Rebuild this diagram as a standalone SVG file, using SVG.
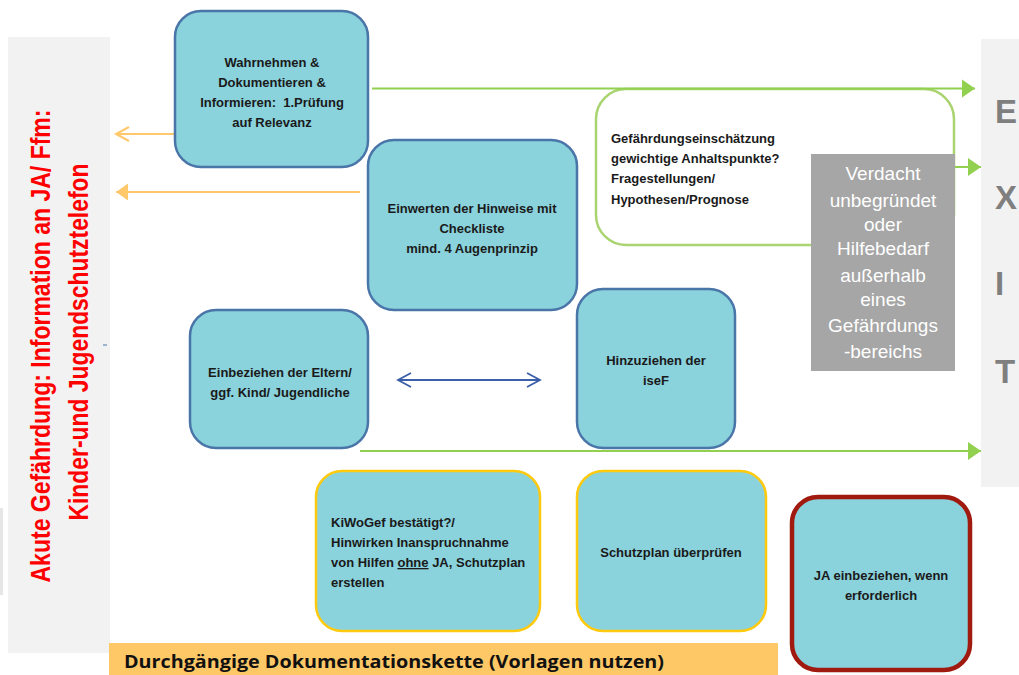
<svg xmlns="http://www.w3.org/2000/svg" width="1019" height="675" viewBox="0 0 1019 675">
<style>
.node{fill:#8ad2dc;stroke:#4a75a8;stroke-width:2.5}
.t{font-family:"Liberation Sans",Arial,sans-serif;font-weight:bold;font-size:13px;fill:#1a1a1a}
.c{text-anchor:middle}
.g{font-family:"Liberation Sans",Arial,sans-serif;font-size:19px;fill:#ffffff;text-anchor:middle}
.exit{font-family:"Liberation Sans",Arial,sans-serif;font-weight:bold;font-size:33px;fill:#7f7f7f}
.red{font-family:"Liberation Sans",Arial,sans-serif;font-weight:bold;font-size:27px;fill:#ff0000;text-anchor:middle}
.gl{stroke:#92d050;stroke-width:2;fill:none}
.ol{stroke:#ffc86b;stroke-width:2;fill:none}
</style>
<defs>
<marker id="gh" markerUnits="userSpaceOnUse" markerWidth="14" markerHeight="18" refX="13" refY="9" orient="auto" overflow="visible"><path d="M0,0 L13,9 L0,18 z" fill="#92d050"/></marker>
<marker id="of" markerUnits="userSpaceOnUse" markerWidth="13" markerHeight="17" refX="12" refY="8.5" orient="auto" overflow="visible"><path d="M0,0 L12,8.5 L0,17 z" fill="#ffc86b"/></marker>
<marker id="oo" markerUnits="userSpaceOnUse" markerWidth="15" markerHeight="17" refX="13" refY="8" orient="auto" overflow="visible"><path d="M0,1 L13,8 L0,15" fill="none" stroke="#ffc86b" stroke-width="2"/></marker>
<marker id="bo" markerUnits="userSpaceOnUse" markerWidth="15" markerHeight="17" refX="13" refY="8" orient="auto-start-reverse" overflow="visible"><path d="M0,1 L13,8 L0,15" fill="none" stroke="#3a5ea8" stroke-width="1.8"/></marker>
</defs>

<g id="left-panel">
<rect x="0" y="508" width="3" height="87" fill="#e6e6e6"/>
<rect x="8" y="37" width="102" height="616" fill="#f2f2f2"/>
<text class="red" transform="translate(50,346) rotate(-90)" textLength="473" lengthAdjust="spacingAndGlyphs">Akute Gefährdung: Information an JA/ Ffm:</text>
<text class="red" transform="translate(88,342) rotate(-90)" textLength="357" lengthAdjust="spacingAndGlyphs">Kinder-und Jugendschutztelefon</text>
<line x1="103" y1="345" x2="107" y2="345" stroke="#4a75a8" stroke-width="1"/>
</g>

<g id="exit-panel">
<rect x="981" y="39" width="38" height="448" fill="#f2f2f2"/>
<text class="exit" x="995" y="123">E</text>
<text class="exit" x="995" y="209">X</text>
<text class="exit" x="995" y="295">I</text>
<text class="exit" x="995" y="383">T</text>
</g>

<g id="bottom-bar">
<rect x="109" y="643" width="669" height="32" fill="#fec867"/>
<text x="124" y="668" font-family="'Open Sans','Liberation Sans',sans-serif" font-weight="bold" font-size="18" fill="#111" textLength="540" lengthAdjust="spacingAndGlyphs">Durchgängige Dokumentationskette (Vorlagen nutzen)</text>
</g>

<g id="n-gefaehrdung">
<rect x="596" y="89" width="358" height="156" rx="30" fill="#ffffff" stroke="#a9d46f" stroke-width="2.5"/>
<text class="t"><tspan x="611" y="143">Gefährdungseinschätzung</tspan><tspan x="611" y="163">gewichtige Anhaltspunkte?</tspan><tspan x="611" y="183">Fragestellungen/</tspan><tspan x="611" y="204">Hypothesen/Prognose</tspan></text>
</g>

<g id="connectors">
<line class="ol" x1="175" y1="134" x2="116" y2="134" marker-end="url(#oo)"/>
<line class="ol" x1="360" y1="192" x2="116" y2="192" marker-end="url(#of)"/>
<line class="gl" x1="372" y1="88.5" x2="975" y2="88.5" marker-end="url(#gh)"/>
<line class="gl" x1="955" y1="167" x2="981" y2="167" marker-end="url(#gh)"/>
<line class="gl" x1="360" y1="451" x2="981" y2="451" marker-end="url(#gh)"/>
<line x1="398" y1="380" x2="540" y2="380" stroke="#3a5ea8" stroke-width="1.8" marker-start="url(#bo)" marker-end="url(#bo)"/>
</g>

<g id="n-verdacht">
<rect x="811" y="154" width="144" height="217" fill="#a6a6a6"/>
<text class="g"><tspan x="883" y="180">Verdacht</tspan><tspan x="883" y="207">unbegründet</tspan><tspan x="883" y="231">oder</tspan><tspan x="883" y="255">Hilfebedarf</tspan><tspan x="883" y="282">außerhalb</tspan><tspan x="883" y="306">eines</tspan><tspan x="883" y="332">Gefährdungs</tspan><tspan x="883" y="358">-bereichs</tspan></text>
</g>

<g id="n-wahrnehmen">
<rect class="node" x="175" y="11" width="193" height="156" rx="26"/>
<text class="t c" xml:space="preserve"><tspan x="272" y="67">Wahrnehmen &amp;</tspan><tspan x="272" y="87">Dokumentieren &amp;</tspan><tspan x="272" y="107">Informieren:  1.Prüfung</tspan><tspan x="272" y="127">auf Relevanz</tspan></text>
</g>

<g id="n-einwerten">
<rect class="node" x="368" y="140" width="209" height="170" rx="26"/>
<text class="t c"><tspan x="472" y="213">Einwerten der Hinweise mit</tspan><tspan x="472" y="233">Checkliste</tspan><tspan x="472" y="253">mind. 4 Augenprinzip</tspan></text>
</g>

<g id="n-eltern">
<rect class="node" x="190" y="310" width="178" height="138" rx="26"/>
<text class="t c"><tspan x="280" y="377">Einbeziehen der Eltern/</tspan><tspan x="280" y="397">ggf. Kind/ Jugendliche</tspan></text>
</g>

<g id="n-isef">
<rect class="node" x="577" y="289" width="158" height="159" rx="26"/>
<text class="t c"><tspan x="656" y="365">Hinzuziehen der</tspan><tspan x="656" y="385">iseF</tspan></text>
</g>

<g id="n-kiwogef">
<rect x="316" y="471" width="224" height="160" rx="26" fill="#8ad2dc" stroke="#ffc90e" stroke-width="2.5"/>
<text class="t"><tspan x="331" y="527">KiWoGef bestätigt?/</tspan><tspan x="331" y="547">Hinwirken Inanspruchnahme</tspan><tspan x="331" y="567">von Hilfen <tspan text-decoration="underline">ohne</tspan> JA, Schutzplan</tspan><tspan x="331" y="587">erstellen</tspan></text>
</g>

<g id="n-schutzplan">
<rect x="577" y="471" width="189" height="160" rx="26" fill="#8ad2dc" stroke="#ffc90e" stroke-width="2.5"/>
<text class="t c" x="671" y="557">Schutzplan überprüfen</text>
</g>

<g id="n-ja">
<rect x="792" y="497" width="178" height="173" rx="26" fill="#8ad2dc" stroke="#a11a10" stroke-width="4.5"/>
<text class="t c"><tspan x="881" y="580">JA einbeziehen, wenn</tspan><tspan x="881" y="600">erforderlich</tspan></text>
</g>
</svg>
